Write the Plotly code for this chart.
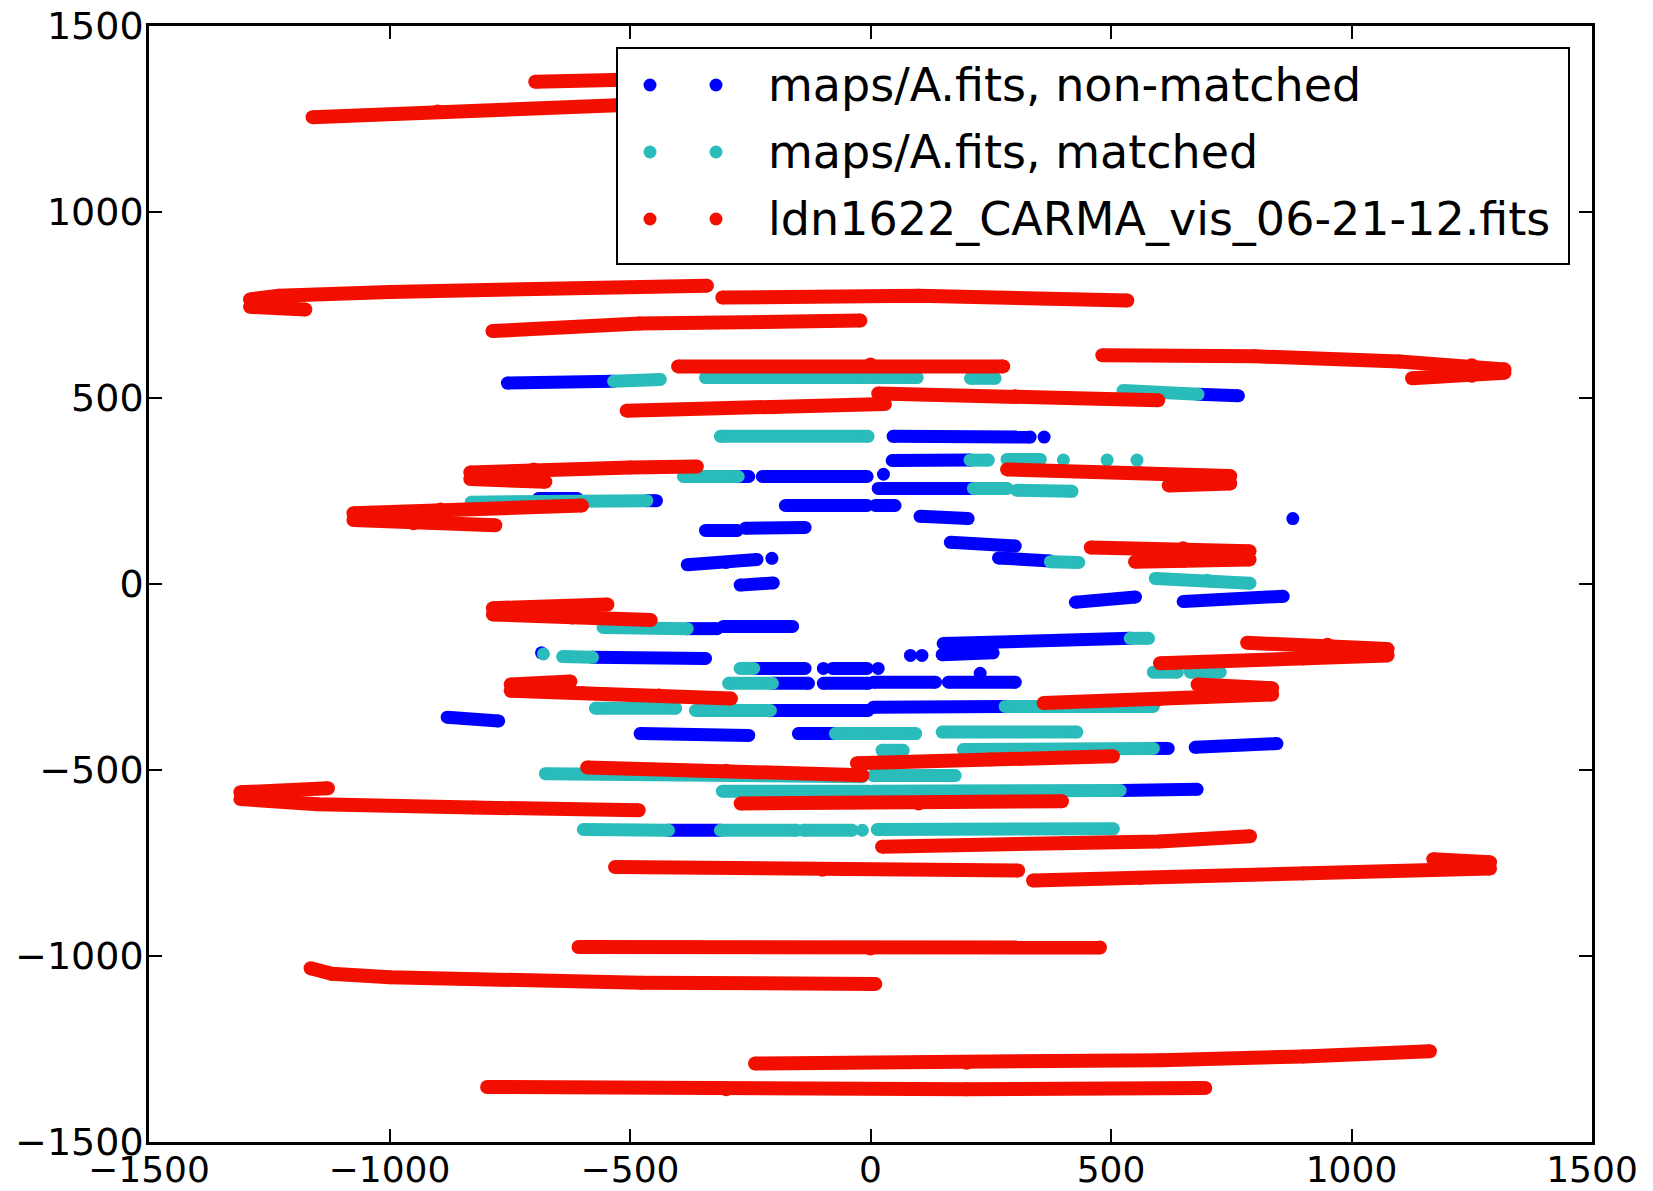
import plotly.graph_objects as go

# ---------------- data ----------------
series_names = ["maps/A.fits, non-matched", "maps/A.fits, matched",
                "ldn1622_CARMA_vis_06-21-12.fits"]
series_colors = ["#0000ff", "#2abbbb", "#f20f00"]

tick_vals = [-1500, -1000, -500, 0, 500, 1000, 1500]
tick_text = ["\u22121500", "\u22121000", "\u2212500", "0", "500", "1000", "1500"]

# red tracks (ldn1622 CARMA visibilities); hooked tracks are split into
# an upper and a lower branch that meet at a rounded tip
red_tracks_x = [
    [-697, -500, -350],
    [-1160, -900, -526, -300],
    [-1290, -1230, -1000, -700, -340], [-1290, -1175],
    [-308, 100, 534],
    [-786, -480, -21],
    [-400, 0, 276],
    [482, 800, 1100, 1250, 1318], [1318, 1250, 1126],
    [-507, -200, 30],
    [16, 300, 598],
    [-832, -700, -500, -361], [-832, -676],
    [284, 561, 748], [748, 620],
    [-1075, -894, -600], [-1075, -950, -780],
    [458, 650, 788], [788, 650, 550],
    [-785, -547], [-785, -620, -457],
    [783, 950, 1075], [1075, 900, 602],
    [-748, -624], [-748, -600, -440, -290],
    [360, 600, 835], [835, 680],
    [-1310, -1128], [-1310, -1150, -826, -482],
    [-589, -300, -17],
    [-28, 250, 504],
    [-270, 100, 398],
    [24, 400, 600, 789],
    [-531, -100, 307],
    [338, 561, 900, 1170, 1288], [1288, 1170],
    [-607, 0, 477],
    [-1164, -1120, -1000, -478, 10],
    [-240, 200, 602, 900, 1163],
    [-797, -300, 200, 696],
]
red_tracks_y = [
    [1350, 1355, 1360],
    [1255, 1270, 1287, 1293],
    [765, 775, 785, 793, 802], [745, 738],
    [770, 775, 762],
    [680, 700, 708],
    [585, 590, 585],
    [615, 612, 598, 588, 577], [568, 560, 553],
    [466, 475, 484],
    [512, 505, 494],
    [300, 308, 313, 316], [282, 275],
    [308, 298, 290], [270, 265],
    [190, 200, 211], [172, 163, 158],
    [98, 96, 88], [66, 62, 60],
    [-65, -55], [-82, -90, -97],
    [-158, -163, -175], [-192, -200, -213],
    [-270, -262], [-287, -293, -300, -308],
    [-320, -310, -297], [-280, -270],
    [-560, -549], [-578, -592, -601, -608],
    [-493, -502, -514],
    [-482, -472, -463],
    [-590, -590, -584],
    [-706, -697, -692, -678],
    [-761, -768, -770],
    [-797, -790, -778, -768, -765], [-748, -740],
    [-976, -980, -977],
    [-1033, -1048, -1057, -1072, -1075],
    [-1289, -1287, -1280, -1270, -1256],
    [-1352, -1358, -1358, -1355],
]

# blue segments (maps/A.fits, non-matched)
blue_tracks_x = [
    [-755, -534], [681, 765], [47, 332], [361], [45, 207],
    [-275, -253], [-225, -7], [27], [16, 214], [-465, -445], [-690, -610],
    [-177, -7], [10, 51], [103, 203], [-343, -277], [-260, -136],
    [166, 301], [266, 374], [-381, -300, -236], [-205], [-271, -202],
    [650, 858], [426, 551], [-381, -319], [-306, -162], [151, 540],
    [-684], [-578, -343], [83], [107], [149, 255],
    [-243, -136], [-98], [-79, -7], [16],
    [-204, -129], [-98, -5], [6, 135], [162, 301], [228],
    [-208, -5], [6, 280], [-880, -773], [-479, -253], [-150, -73],
    [588, 619], [675, 845], [519, 679], [-420, -312], [878],
]
blue_tracks_y = [
    [540, 545], [510, 506], [397, 395], [395], [332, 333],
    [289, 289], [289, 289], [295], [257, 257], [224, 224], [230, 230],
    [211, 211], [211, 211], [182, 176], [144, 144], [150, 152],
    [112, 102], [70, 62], [52, 58, 66], [69], [-3, 3],
    [-47, -33], [-49, -35], [-120, -120], [-114, -114], [-160, -146],
    [-185], [-197, -200], [-192], [-192], [-190, -185],
    [-227, -227], [-227], [-227, -227], [-227],
    [-267, -267], [-267, -267], [-264, -264], [-264, -264], [-240],
    [-340, -340], [-331, -329], [-358, -368], [-402, -407], [-402, -402],
    [-442, -442], [-439, -429], [-555, -552], [-662, -662], [176],
]

# cyan segments (maps/A.fits, matched)
cyan_tracks_x = [
    [-534, -437], [-343, -4], [4, 97], [208, 259], [525, 681],
    [-312, -5], [207, 245], [284, 353], [401], [492], [554],
    [-389, -275], [214, 284], [304, 419], [-830, -465], [374, 433],
    [592, 700, 789], [-556, -381], [540, 578], [-680], [-640, -578],
    [588, 638], [665, 727], [-271, -243], [-295, -204],
    [-572, -405], [-364, -208], [280, 588],
    [-73, 0], [6, 94], [149, 429], [193, 588], [24, 68],
    [-676, -17], [6, 176], [-308, -5], [5, 519],
    [-597, -420], [-312, -153], [-140, -38], [-17], [14, 505],
]
cyan_tracks_y = [
    [545, 550], [555, 555], [555, 555], [553, 553], [520, 510],
    [397, 397], [333, 333], [335, 335], [333], [333], [333],
    [289, 289], [257, 257], [252, 249], [220, 224], [60, 58],
    [15, 10, 2], [-117, -120], [-146, -146], [-188], [-195, -197],
    [-237, -237], [-237, -237], [-227, -227], [-267, -267],
    [-334, -334], [-340, -340], [-329, -329],
    [-402, -402], [-402, -402], [-398, -398], [-445, -442], [-447, -447],
    [-510, -518], [-515, -515], [-557, -557], [-557, -555],
    [-660, -662], [-662, -662], [-662, -662], [-662], [-660, -658],
]


def join(tracks):
    out = []
    for t in tracks:
        out.extend(t)
        out.append(None)
    return out


# ---------------- figure ----------------
W, H = 1653, 1191
ML, MR, MT, MB = 149, 61, 26, 49
PW, PH = W - ML - MR, H - MT - MB
FONT = "DejaVu Sans"

fig = go.Figure()
for name, color, tx, ty, sz in [
    (series_names[0], series_colors[0], blue_tracks_x, blue_tracks_y, 13),
    (series_names[1], series_colors[1], cyan_tracks_x, cyan_tracks_y, 13),
    (series_names[2], series_colors[2], red_tracks_x, red_tracks_y, 14),
]:
    fig.add_trace(go.Scatter(
        x=join(tx), y=join(ty), name=name, mode="lines+markers",
        line=dict(color=color, width=sz),
        marker=dict(color=color, size=sz, line=dict(width=0)),
        connectgaps=False, showlegend=False, hoverinfo="skip",
    ))

axis_common = dict(
    range=[-1500, 1500], tickmode="array", tickvals=tick_vals, ticktext=tick_text,
    showgrid=False, zeroline=False, showline=True, linecolor="black",
    linewidth=2.5, mirror="ticks", ticks="inside", ticklen=13, tickwidth=1.5,
    tickcolor="black", automargin=False,
)
fig.update_xaxes(**axis_common, ticklabelstandoff=-6,
                 tickfont=dict(family=FONT, size=36, color="black"))
fig.update_yaxes(**axis_common, ticklabelstandoff=-5,
                 tickfont=dict(family=FONT, size=38, color="black"))


def pxx(x):
    return (x - ML) / PW


def pxy(y):
    return 1 - (y - MT) / PH


# legend box drawn like the matplotlib legend (two dots per entry)
shapes = [dict(type="rect", xref="paper", yref="paper",
               x0=pxx(617), x1=pxx(1569), y0=pxy(264), y1=pxy(48),
               fillcolor="white", line=dict(color="black", width=2),
               layer="above")]
annotations = []
row_y = [85, 152, 219]
for name, color, ry in zip(series_names, series_colors, row_y):
    for dx in (650, 716):
        shapes.append(dict(type="circle", xref="paper", yref="paper",
                           xsizemode="pixel", ysizemode="pixel",
                           xanchor=pxx(dx), yanchor=pxy(ry),
                           x0=-6.5, x1=6.5, y0=-6.5, y1=6.5,
                           fillcolor=color, line=dict(width=0), layer="above"))
    annotations.append(dict(xref="paper", yref="paper", x=pxx(766), y=pxy(ry),
                            xanchor="left", yanchor="middle", text=name,
                            showarrow=False,
                            font=dict(family=FONT, size=46, color="black")))

fig.update_layout(
    width=W, height=H, margin=dict(l=ML, r=MR, t=MT, b=MB, autoexpand=False),
    paper_bgcolor="white", plot_bgcolor="white",
    shapes=shapes, annotations=annotations, showlegend=False,
    font=dict(family=FONT, color="black"),
)

fig.write_html("out.html")
